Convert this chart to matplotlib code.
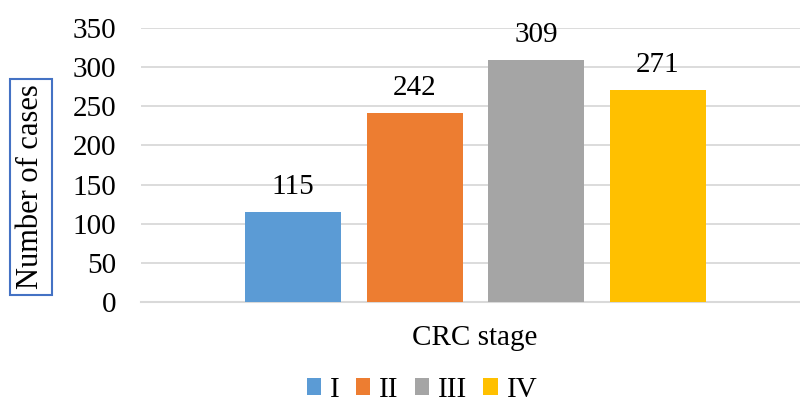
import matplotlib
matplotlib.use("Agg")
import matplotlib.pyplot as plt
from matplotlib.patches import Patch

stages = ["I", "II", "III", "IV"]
cases = [115, 242, 309, 271]
colors = ["#5B9BD5", "#ED7D31", "#A5A5A5", "#FFC000"]
y_ticks = [0, 50, 100, 150, 200, 250, 300, 350]

plt.rcParams["font.family"] = ["Liberation Serif", "DejaVu Serif"]
FS = 21

fig = plt.figure(figsize=(8.0, 4.03), dpi=100)
ax = fig.add_axes([141 / 800, 101 / 403, 659 / 800, 274 / 403])

positions = list(range(len(stages)))
bars = ax.bar(positions, cases, width=0.79, color=colors, zorder=3)
for bar, value in zip(bars, cases):
    ax.annotate(str(value), (bar.get_x() + bar.get_width() / 2, value),
                xytext=(0, 18), textcoords="offset points",
                ha="center", va="center", fontsize=FS)

ax.set_xlim(-1.25, 4.17)
ax.set_ylim(0, 350)
ax.set_yticks(y_ticks)
ax.set_xticks([])
ax.yaxis.grid(True, color="#D9D9D9", linewidth=1.3, zorder=0)
ax.tick_params(axis="y", length=0, pad=18, labelsize=FS)
for side in ("top", "right", "left"):
    ax.spines[side].set_visible(False)
ax.spines["bottom"].set_color("#D9D9D9")
ax.spines["bottom"].set_linewidth(1.5)

fig.text(475 / 800, 1 - 338 / 403, "CRC stage", ha="center", va="center", fontsize=FS)
fig.text(31 / 800, 1 - 187 / 403, "Number of cases", rotation=90, ha="center", va="center",
         fontsize=22,
         bbox=dict(boxstyle="square,pad=0.2", facecolor="white", edgecolor="#4472C4", linewidth=1.5))

handles = [Patch(facecolor=c, edgecolor="none", label=s) for c, s in zip(colors, stages)]
fig.legend(handles=handles, loc="center", bbox_to_anchor=(422 / 800, 1 - 390 / 403), ncol=4,
           frameon=False, fontsize=FS, handlelength=0.5, handleheight=0.5,
           handletextpad=0.3, columnspacing=0.55, borderpad=0.0, borderaxespad=0.0)

fig.savefig("out.png", dpi=100)
